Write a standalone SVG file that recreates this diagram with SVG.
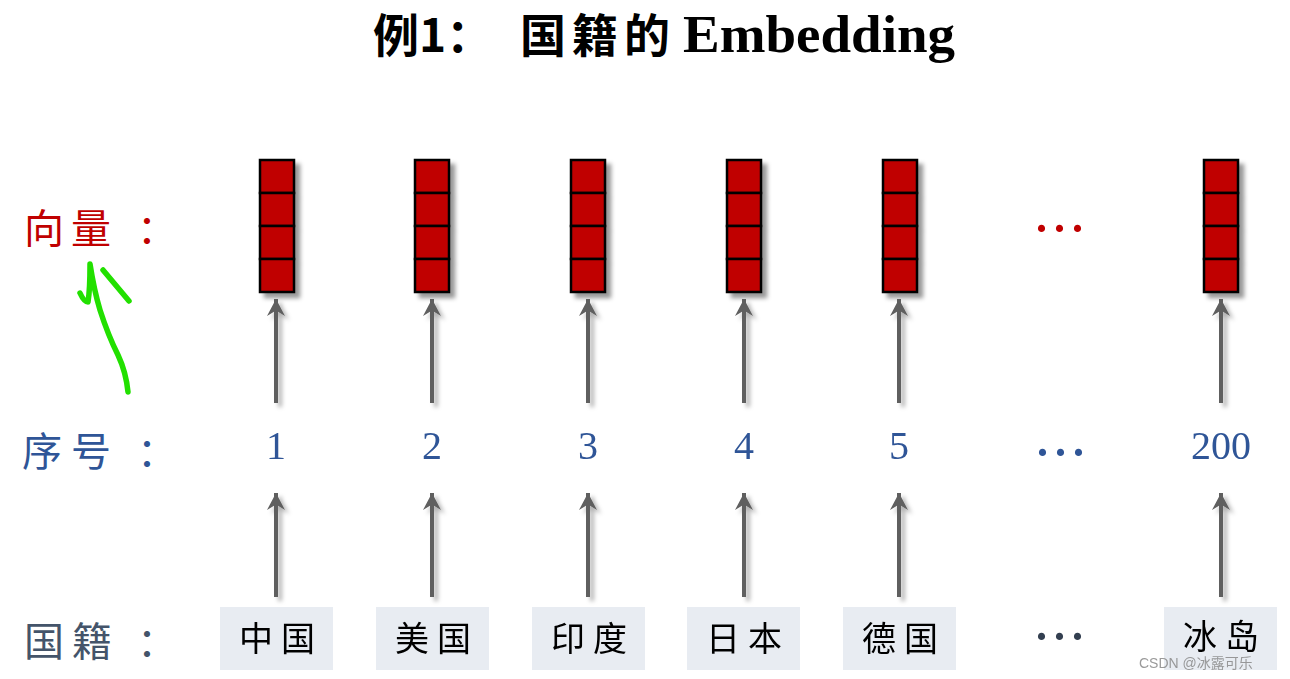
<svg xmlns="http://www.w3.org/2000/svg" width="1290" height="679" viewBox="0 0 1290 679">
<style>
.cjk{font-family:"Noto Sans CJK SC","Liberation Serif",serif;}
.num{font-family:"Liberation Serif","Noto Sans CJK SC",serif;font-size:40px;fill:#2f5597;text-anchor:middle;}
.cell{fill:#c00000;stroke:#000;stroke-width:2.5;}
.box{fill:#e8ecf2;}
.boxt{font-family:"Noto Sans CJK SC",serif;font-size:34px;fill:#000;text-anchor:middle;letter-spacing:8px;}
.arr{stroke:#5f5f5f;stroke-width:4;fill:none;marker-end:url(#head);}
.dots{font-family:"Liberation Serif",serif;font-weight:bold;font-size:44px;letter-spacing:7px;}
</style>
<defs>
<filter id="sh" x="-30%" y="-10%" width="160%" height="130%">
<feDropShadow dx="5" dy="5" stdDeviation="2" flood-color="#000" flood-opacity="0.4"/>
</filter>
<filter id="ash" x="-200%" y="-10%" width="500%" height="130%">
<feDropShadow dx="4" dy="4" stdDeviation="2" flood-color="#000" flood-opacity="0.3"/>
</filter>
<marker id="head" viewBox="-17 -10 18 20" refX="0" refY="0" markerWidth="18" markerHeight="20" markerUnits="userSpaceOnUse" orient="auto">
<path d="M0,0 L-17,-9 L-11.5,0 L-17,9 Z" fill="#5f5f5f"/>
</marker>
<g id="vec">
<rect class="cell" x="-17" y="0" width="34" height="33"/>
<rect class="cell" x="-17" y="33" width="34" height="33"/>
<rect class="cell" x="-17" y="66" width="34" height="33"/>
<rect class="cell" x="-17" y="99" width="34" height="33"/>
</g>
</defs>
<rect width="1290" height="679" fill="#fff"/>

<g id="title">
<text x="373" y="52" class="cjk" font-size="46" font-weight="bold" fill="#000">例1：</text>
<text x="520" y="52" class="cjk" font-size="46" font-weight="bold" fill="#000" letter-spacing="6">国籍的</text>
<text x="683" y="52" font-family="Liberation Serif,serif" font-size="52" font-weight="bold" fill="#000" textLength="272" lengthAdjust="spacingAndGlyphs">Embedding</text>
</g>

<g id="row-labels">
<text x="24" y="243" class="cjk" font-size="40" fill="#c00000" letter-spacing="7">向量</text>
<text x="137" y="243" class="cjk" font-size="40" fill="#c00000">：</text>
<text x="22" y="466" class="cjk" font-size="40" fill="#2f5597" letter-spacing="9">序号</text>
<text x="137" y="466" class="cjk" font-size="40" fill="#2f5597">：</text>
<text x="24" y="656" class="cjk" font-size="40" fill="#44546a" letter-spacing="8">国籍</text>
<text x="137" y="656" class="cjk" font-size="40" fill="#44546a">：</text>
</g>

<g id="vectors" filter="url(#sh)">
<use href="#vec" x="277" y="160"/>
<use href="#vec" x="432" y="160"/>
<use href="#vec" x="588" y="160"/>
<use href="#vec" x="744" y="160"/>
<use href="#vec" x="900" y="160"/>
<use href="#vec" x="1221" y="160"/>
</g>

<g id="numbers">
<text class="num" x="276" y="459">1</text>
<text class="num" x="432" y="459">2</text>
<text class="num" x="588" y="459">3</text>
<text class="num" x="744" y="459">4</text>
<text class="num" x="899" y="459">5</text>
<text class="num" x="1221" y="459">200</text>
</g>

<g id="countries">
<g id="n-cn"><rect class="box" x="220" y="607" width="113" height="63"/><text class="boxt" x="281" y="651">中国</text></g>
<g id="n-us"><rect class="box" x="376" y="607" width="113" height="63"/><text class="boxt" x="437" y="651">美国</text></g>
<g id="n-in"><rect class="box" x="532" y="607" width="113" height="63"/><text class="boxt" x="593" y="651">印度</text></g>
<g id="n-jp"><rect class="box" x="687" y="607" width="113" height="63"/><text class="boxt" x="748" y="651">日本</text></g>
<g id="n-de"><rect class="box" x="843" y="607" width="113" height="63"/><text class="boxt" x="904" y="651">德国</text></g>
<g id="n-is"><rect class="box" x="1164" y="607" width="113" height="63"/><text class="boxt" x="1225" y="649">冰岛</text></g>
</g>

<g id="ellipses">
<text class="dots" x="1036" y="232" fill="#c00000">...</text>
<text class="dots" x="1037" y="456" fill="#2f5597" letter-spacing="9">...</text>
<text class="dots" x="1036" y="640" fill="#333f50">...</text>
</g>

<g id="connectors" filter="url(#ash)">
<line class="arr" x1="276" y1="403" x2="276" y2="299"/>
<line class="arr" x1="432" y1="403" x2="432" y2="299"/>
<line class="arr" x1="588" y1="403" x2="588" y2="299"/>
<line class="arr" x1="744" y1="403" x2="744" y2="299"/>
<line class="arr" x1="899" y1="403" x2="899" y2="299"/>
<line class="arr" x1="1221" y1="403" x2="1221" y2="299"/>
<line class="arr" x1="276" y1="597" x2="276" y2="493"/>
<line class="arr" x1="432" y1="597" x2="432" y2="493"/>
<line class="arr" x1="588" y1="597" x2="588" y2="493"/>
<line class="arr" x1="744" y1="597" x2="744" y2="493"/>
<line class="arr" x1="899" y1="597" x2="899" y2="493"/>
<line class="arr" x1="1221" y1="597" x2="1221" y2="493"/>
</g>

<g id="scribble" fill="none" stroke="#22e000" stroke-width="5.5" stroke-linecap="round" stroke-linejoin="round">
<path d="M80,293 Q84,302 88,302 Q90,290 90,264 Q94,290 100,310 Q108,335 118,355 Q126,372 128,392"/>
<path d="M103,270 L129,301"/>
</g>

<text x="1139" y="668" font-family="Liberation Sans,Noto Sans CJK SC,sans-serif" font-size="14" fill="#888" fill-opacity="0.85">CSDN @冰露可乐</text>
</svg>
